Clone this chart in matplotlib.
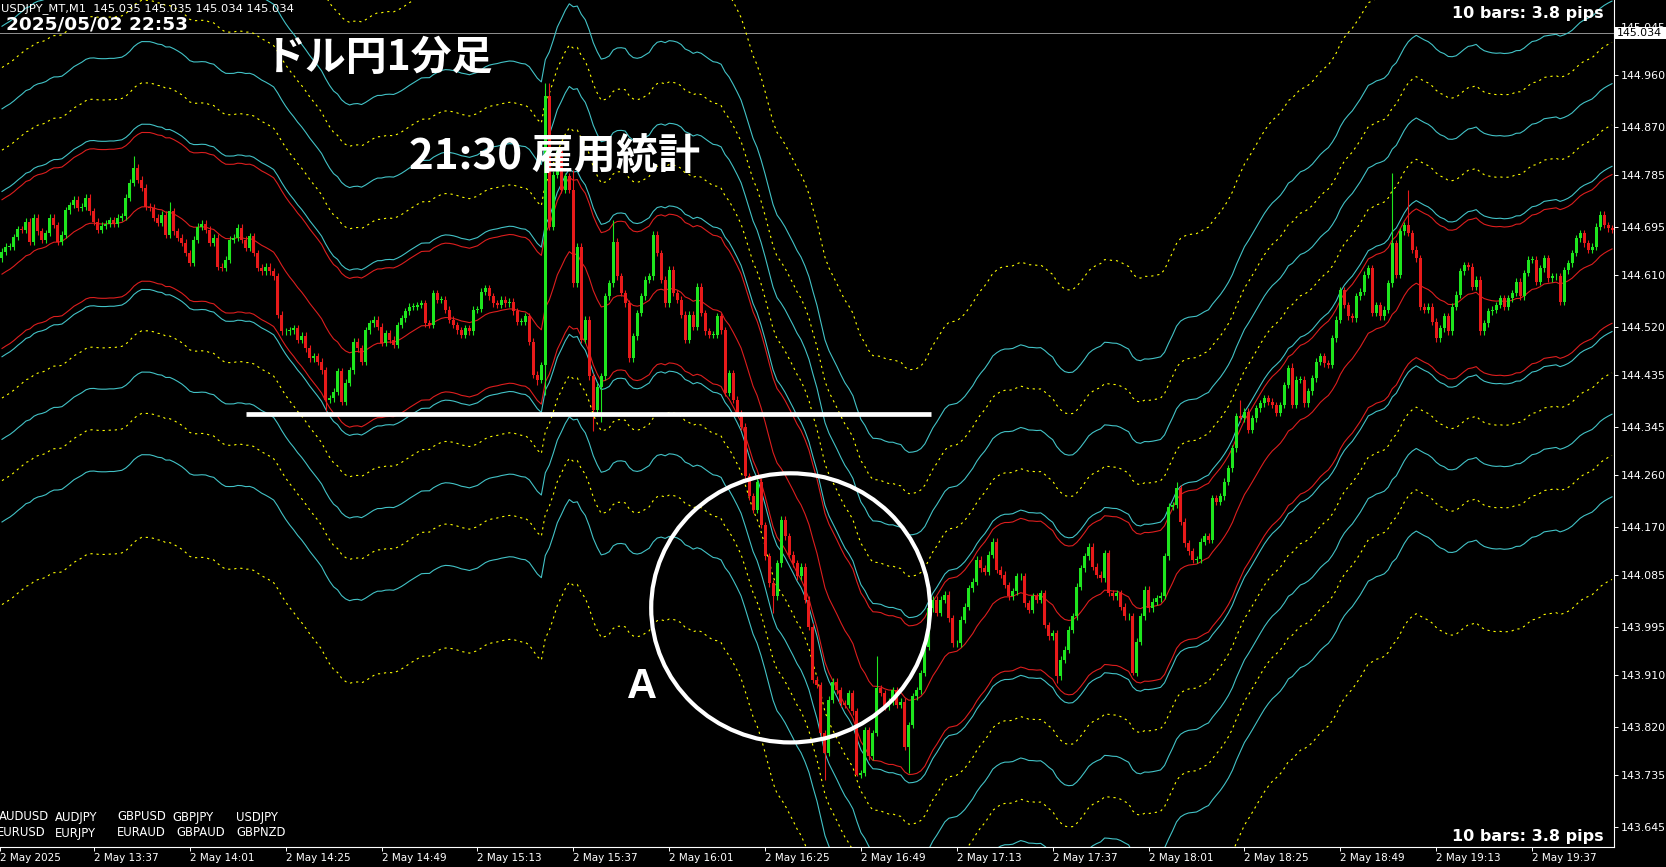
import matplotlib
matplotlib.use("Agg")
import matplotlib.pyplot as plt
from matplotlib.patches import Ellipse, Rectangle
import numpy as np
import pandas as pd

W, H = 1666, 867

# USDJPY M1 closes, one per bar from 13:14
closes = [
    144.651, 144.660, 144.660, 144.677, 144.691, 144.690, 144.704, 144.669, 144.711, 144.687,
    144.672, 144.684, 144.711, 144.698, 144.669, 144.681, 144.724, 144.733, 144.742, 144.728,
    144.730, 144.746, 144.722, 144.704, 144.690, 144.697, 144.700, 144.706, 144.700, 144.711,
    144.713, 144.746, 144.772, 144.798, 144.777, 144.763, 144.730, 144.728, 144.711, 144.702,
    144.716, 144.681, 144.722, 144.687, 144.676, 144.667, 144.649, 144.632, 144.672, 144.695,
    144.700, 144.690, 144.667, 144.676, 144.625, 144.623, 144.637, 144.672, 144.676, 144.693,
    144.672, 144.658, 144.678, 144.649, 144.623, 144.617, 144.625, 144.617, 144.608, 144.541,
    144.512, 144.512, 144.514, 144.517, 144.497, 144.504, 144.482, 144.465, 144.468, 144.459,
    144.444, 144.392, 144.395, 144.406, 144.442, 144.389, 144.422, 144.444, 144.494, 144.482,
    144.459, 144.514, 144.526, 144.532, 144.520, 144.492, 144.509, 144.497, 144.488, 144.523,
    144.535, 144.547, 144.555, 144.555, 144.558, 144.561, 144.526, 144.523, 144.579, 144.567,
    144.567, 144.550, 144.532, 144.523, 144.514, 144.506, 144.517, 144.512, 144.550, 144.551,
    144.581, 144.587, 144.573, 144.561, 144.558, 144.567, 144.561, 144.564, 144.547, 144.529,
    144.529, 144.538, 144.494, 144.436, 144.427, 144.453, 144.923, 144.695, 144.786, 144.827,
    144.760, 144.783, 144.760, 144.596, 144.660, 144.497, 144.532, 144.433, 144.375, 144.415,
    144.433, 144.573, 144.596, 144.669, 144.608, 144.579, 144.561, 144.465, 144.503, 144.544,
    144.573, 144.602, 144.608, 144.681, 144.649, 144.602, 144.561, 144.620, 144.579, 144.567,
    144.541, 144.497, 144.541, 144.520, 144.590, 144.544, 144.512, 144.506, 144.506, 144.538,
    144.514, 144.404, 144.439, 144.392, 144.369, 144.345, 144.258, 144.223, 144.200, 144.249,
    144.173, 144.118, 144.071, 144.048, 144.106, 144.182, 144.153, 144.121, 144.106, 144.083,
    144.100, 144.042, 143.995, 143.902, 143.893, 143.809, 143.774, 143.867, 143.899, 143.884,
    143.861, 143.858, 143.879, 143.847, 143.736, 143.739, 143.814, 143.768, 143.809, 143.887,
    143.879, 143.855, 143.864, 143.884, 143.858, 143.864, 143.785, 143.823, 143.873, 143.884,
    143.914, 143.960, 144.027, 144.042, 144.019, 144.042, 144.051, 144.010, 143.966, 143.966,
    144.007, 144.030, 144.062, 144.074, 144.112, 144.097, 144.091, 144.121, 144.144, 144.095,
    144.086, 144.068, 144.048, 144.057, 144.083, 144.083, 144.036, 144.025, 144.048, 144.042,
    144.054, 143.998, 143.978, 143.984, 143.908, 143.937, 143.955, 143.990, 144.013, 144.065,
    144.097, 144.118, 144.135, 144.100, 144.086, 144.080, 144.124, 144.054, 144.048, 144.054,
    144.030, 144.013, 144.013, 143.914, 143.969, 144.013, 144.060, 144.027, 144.039, 144.045,
    144.049, 144.118, 144.205, 144.208, 144.237, 144.179, 144.141, 144.127, 144.112, 144.113,
    144.144, 144.153, 144.147, 144.220, 144.214, 144.223, 144.249, 144.272, 144.307, 144.363,
    144.360, 144.371, 144.340, 144.360, 144.377, 144.386, 144.395, 144.389, 144.383, 144.369,
    144.383, 144.418, 144.447, 144.383, 144.427, 144.427, 144.386, 144.407, 144.430, 144.459,
    144.468, 144.456, 144.453, 144.500, 144.532, 144.584, 144.558, 144.538, 144.535, 144.573,
    144.581, 144.611, 144.622, 144.544, 144.558, 144.538, 144.550, 144.596, 144.666, 144.611,
    144.687, 144.698, 144.684, 144.655, 144.640, 144.555, 144.550, 144.555, 144.529, 144.500,
    144.517, 144.538, 144.512, 144.555, 144.576, 144.617, 144.628, 144.625, 144.590, 144.602,
    144.512, 144.526, 144.547, 144.550, 144.558, 144.570, 144.555, 144.570, 144.579, 144.599,
    144.573, 144.614, 144.637, 144.637, 144.599, 144.622, 144.640, 144.605, 144.608, 144.608,
    144.564, 144.619, 144.631, 144.649, 144.675, 144.684, 144.666, 144.655, 144.660, 144.695,
    144.716, 144.698, 144.692, 144.690,
]
first_open = 144.640

# long wicks that stand out
wick_highs = {33: 144.818, 42: 144.739, 136: 144.947, 137: 144.946, 143: 144.794,
              153: 144.707, 219: 143.943, 294: 144.249, 310: 144.392, 323: 144.456,
              348: 144.789, 352: 144.760}
wick_lows = {81: 144.372, 134: 144.418, 136: 144.400, 148: 144.337, 150: 144.354,
             193: 144.019, 206: 143.727, 214: 143.733, 227: 143.739, 264: 143.897,
             283: 143.911}
wick = 0.006

# moving average + fixed-width envelopes
ma_start = 144.608
ma_span = 20
band_step = 0.0723
red_levels = [1.8]
cyan_levels = [2, 4, 6]
yellow_levels = [3, 5, 8]

bid = 145.034
y_ticks = [145.045, 144.960, 144.870, 144.785, 144.695, 144.610, 144.520, 144.435,
           144.345, 144.260, 144.170, 144.085, 143.995, 143.910, 143.820, 143.735, 143.645]
x_tick_bars = [-0.5] + list(range(23, 384, 24))
x_tick_labels = ["2 May 2025", "2 May 13:37", "2 May 14:01", "2 May 14:25", "2 May 14:49",
                 "2 May 15:13", "2 May 15:37", "2 May 16:01", "2 May 16:25", "2 May 16:49",
                 "2 May 17:13", "2 May 17:37", "2 May 18:01", "2 May 18:25", "2 May 18:49",
                 "2 May 19:13", "2 May 19:37"]

support_price = 144.367
support_from, support_to = 61.1, 232.5
circle_center = (197.4, 144.028)
circle_size = (69.8, 0.471)

GREEN = "#1ee61e"
RED = "#e81a1a"
LINE_RED = "#dc1e1e"
CYAN = "#42c2c6"
YELLOW = "#ffff00"

c = np.array(closes)
n = len(c)
x = np.arange(n)
o = np.concatenate([[first_open], c[:-1]])
hi = np.maximum(o, c) + wick
lo = np.minimum(o, c) - wick
for k, v in wick_highs.items():
    hi[k] = v
for k, v in wick_lows.items():
    lo[k] = v

mid = pd.Series([ma_start] + closes).ewm(span=ma_span, adjust=False).mean().to_numpy()[1:]

fig = plt.figure(figsize=(W / 100, H / 100), dpi=100, facecolor="black")
ax = fig.add_axes([0, (H - 847) / H, 1614 / W, 847 / H])
ax.set_facecolor("black")
ax.set_xlim(-0.5, n - 0.5)
ax.set_ylim(143.6095, 145.0918)

ax.axhline(bid, color="#8c8c8c", lw=0.72, zorder=1)

ax.plot(x, mid, color=LINE_RED, lw=0.8, zorder=2)
for k in red_levels:
    for s in (1, -1):
        ax.plot(x, mid + s * k * band_step, color=LINE_RED, lw=0.8, zorder=2)
for k in cyan_levels:
    for s in (1, -1):
        ax.plot(x, mid + s * k * band_step, color=CYAN, lw=0.8, zorder=2)
for k in yellow_levels:
    for s in (1, -1):
        ax.plot(x, mid + s * k * band_step, color=YELLOW, lw=0.8,
                ls=(0, (2, 3.5)), zorder=2)

cols = np.where(c >= o, GREEN, RED)
ax.vlines(x, lo, hi, colors=cols, lw=0.8, zorder=3)
ax.bar(x, np.maximum(np.abs(c - o), 0.0013), bottom=np.minimum(o, c), width=0.75,
       color=cols, linewidth=0, zorder=4)

# drawn annotations
ax.plot([support_from, support_to], [support_price, support_price], color="white",
        lw=3.4, solid_capstyle="butt", zorder=6)
ax.add_patch(Ellipse(circle_center, circle_size[0], circle_size[1], fill=False,
                     edgecolor="white", lw=3.0, zorder=6))

# axes look
for side in ("top", "left"):
    ax.spines[side].set_visible(False)
for side in ("right", "bottom"):
    ax.spines[side].set_color("white")
    ax.spines[side].set_linewidth(0.8)
ax.yaxis.tick_right()
ax.set_yticks(y_ticks)
ax.set_yticklabels([f"{v:.3f}" for v in y_ticks])
ax.set_xticks(x_tick_bars)
ax.set_xticklabels(x_tick_labels)
for lbl in ax.get_xticklabels():
    lbl.set_ha("left")
ax.tick_params(axis="y", colors="white", length=3, width=0.7, pad=2, labelsize=7.9)
ax.tick_params(axis="x", colors="white", length=3, width=0.7, pad=1.5, labelsize=7.5)


def fx(px):
    return px / W


def fy(py):
    return 1 - py / H


# bid price box on the price scale
fig.add_artist(Rectangle((fx(1615), fy(38.5)), fx(51), 11 / H, transform=fig.transFigure,
                         facecolor="white", edgecolor="none", zorder=5))
fig.text(fx(1617), fy(33), f"{bid:.3f}", color="black", fontsize=7.9, va="center",
         zorder=6)

fig.text(fx(1), fy(9), "USDJPY_MT,M1  145.035 145.035 145.034 145.034", color="white",
         fontsize=8.25, va="center", zorder=6)
fig.text(fx(6), fy(24.5), "2025/05/02 22:53", color="white", fontsize=13.3,
         fontweight="bold", va="center", zorder=6)
for py in (13.5, 837):
    fig.text(fx(1604), fy(py), "10 bars: 3.8 pips", color="white", fontsize=11.5,
             fontweight="bold", ha="right", va="center", zorder=6)

jp = ["Noto Sans CJK JP", "DejaVu Sans"]
fig.text(fx(265), fy(58), "ドル円1分足", color="white", fontsize=29.4, fontweight="bold",
         family=jp, va="center", zorder=6)
fig.text(fx(409), fy(158), "21:30 雇用統計", color="white", fontsize=30.3,
         fontweight="bold", family=jp, va="center", zorder=6)
fig.text(fx(627), fy(687), "A", color="white", fontsize=30, fontweight="bold",
         family=["Liberation Sans", "DejaVu Sans"], va="center", zorder=6)

pairs_top = ["AUDUSD", "AUDJPY", "GBPUSD", "GBPJPY", "USDJPY"]
pairs_bottom = ["EURUSD", "EURJPY", "EURAUD", "GBPAUD", "GBPNZD"]
for name, px in zip(pairs_top, [-1, 55, 117, 172, 236]):
    fig.text(fx(px), fy(817), name, color="white", fontsize=8.4, va="center", zorder=6)
for name, px in zip(pairs_bottom, [-3, 55, 117, 176, 236]):
    fig.text(fx(px), fy(833), name, color="white", fontsize=8.4, va="center", zorder=6)

fig.savefig("out.png", dpi=100, facecolor="black")
